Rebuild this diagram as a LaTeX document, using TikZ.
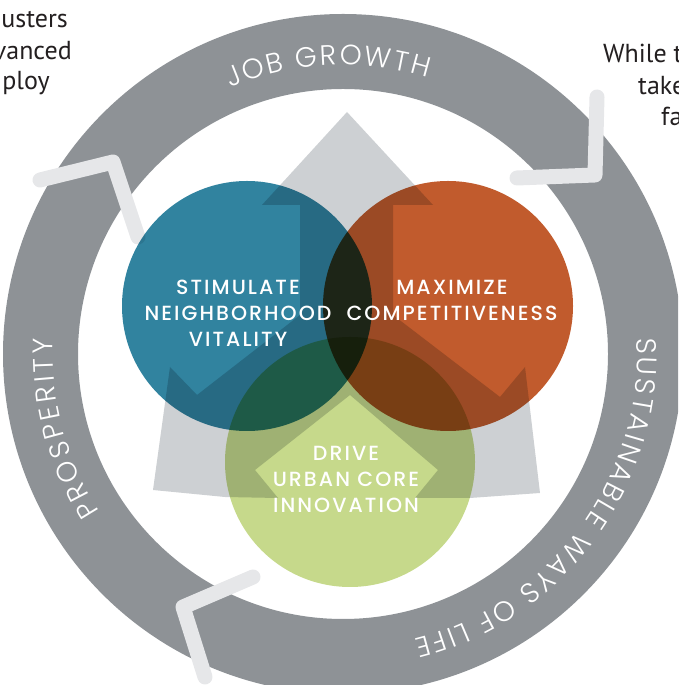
\documentclass[tikz,border=0pt]{standalone}
\usepackage{fontspec}
\setmainfont{Poppins}
\newfontfamily\ringfont{Poppins Light}
\newfontfamily\circfont{Poppins Medium}[LetterSpace=10]
\newfontfamily\bodyfont{PT Sans}
\usetikzlibrary{decorations.text,calc}

\definecolor{ringgrey}{HTML}{8E9296}
\definecolor{chevron}{HTML}{E6E7E9}
\definecolor{shapegrey}{HTML}{CDD0D3}
\definecolor{tealblue}{HTML}{31839F}
\definecolor{rust}{HTML}{C15B2D}
\definecolor{lime}{HTML}{C6D98B}
\definecolor{ink}{HTML}{231F20}

\begin{document}
\begin{tikzpicture}[x=1pt,y=1pt,
  chev/.style={draw=chevron, line width=15pt, line cap=round, line join=round},
  disc/.style={circle, minimum size=250pt, inner sep=0pt, fill=#1},
  caption/.style={text=white, font=\circfont\fontsize{20.5}{26}\selectfont, align=center},
  body/.style={text=ink, font=\bodyfont\fontsize{26}{31}\selectfont, inner sep=0pt},
  ringtext/.style={decorate, decoration={text along path, text align={fit to path},
    text={|\ringfont\fontsize{28}{28}\selectfont\color{white}|#1}}}]
\useasboundingbox (0,0) rectangle (678,685);
\clip (0,0) rectangle (678,685);

% outer ring
\coordinate (C) at (343,331);
\fill[ringgrey, even odd rule] (C) circle[radius=340] (C) circle[radius=265];

% labels running clockwise round the ring
\path[ringtext={JOB GROWTH}] ($(C)+(113:289)$) arc[start angle=113, end angle=73, radius=289];
\path[ringtext={SUSTAINABLE WAYS OF LIFE}] ($(C)+(3:294)$) arc[start angle=3, end angle=-76, radius=294];
\path[ringtext={PROSPERITY}] ($(C)+(213:290)$) arc[start angle=213, end angle=177, radius=290];

% chevrons showing the direction of the cycle
\draw[chev] (40,505) -- (113,523) -- (138,448);
\draw[chev] (597,588) -- (595,510) -- (517,507);
\draw[chev] (253,108) -- (183,78) -- (205,8);

% light grey arrow figure behind the circles
\fill[shapegrey] (347,573) -- (433,480) -- (393,480) -- (393,370) -- (500,288)
  -- (525,318) -- (540,192) -- (470,187) -- (415,187) -- (438,215) -- (350,290)
  -- (255,215) -- (278,187) -- (225,188) -- (153,195) -- (170,318) -- (197,290)
  -- (300,370) -- (300,480) -- (262,480) -- cycle;

% three overlapping goal circles
\begin{scope}[blend mode=multiply]
  \node[disc=tealblue] (blue) at (247,379) {};
  \node[disc=rust] (orange) at (448,379) {};
  \node[disc=lime] (green) at (350,223) {};
\end{scope}

\node[caption] (t1) at (238,372) {STIMULATE\\NEIGHBORHOOD\\VITALITY};
\node[caption] (t2) at (452,385) {MAXIMIZE\\COMPETITIVENESS};
\node[caption] (t3) at (346,206) {DRIVE\\URBAN CORE\\INNOVATION};

% surrounding body text
\node[body, anchor=base east] (l1) at (68,657) {usters};
\node[body, anchor=base east] (l2) at (72,625) {vanced};
\node[body, anchor=base east] (l3) at (50,595) {ploy};
\node[body, anchor=base west] (r1) at (603,622) {While t};
\node[body, anchor=base west] (r2) at (638,590) {take};
\node[body, anchor=base west] (r3) at (661,559) {fa};
\end{tikzpicture}
\end{document}
